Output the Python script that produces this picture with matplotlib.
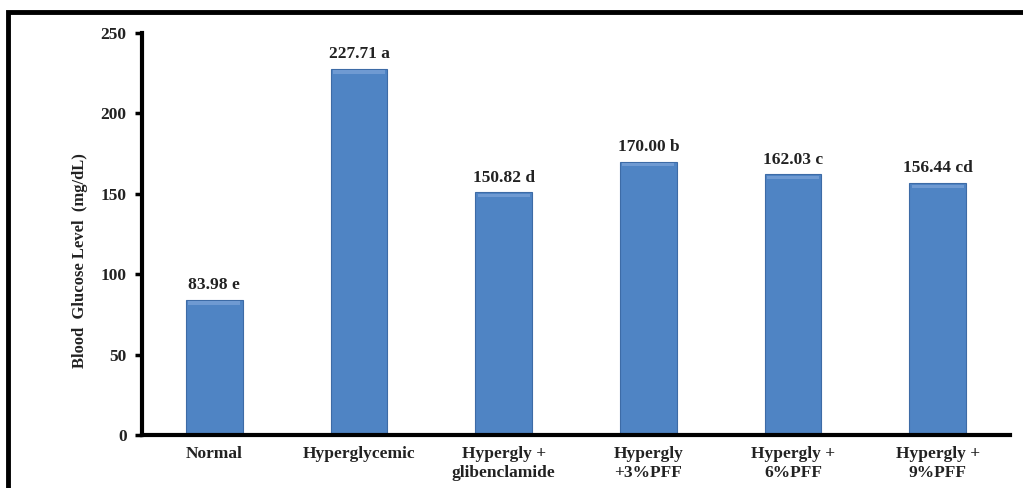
import matplotlib.pyplot as plt
from matplotlib.patches import Rectangle

# groups and mean blood glucose (mg/dL)
groups = ["Normal", "Hyperglycemic", "Hypergly +\nglibenclamide",
          "Hypergly\n+3%PFF", "Hypergly +\n6%PFF", "Hypergly +\n9%PFF"]
glucose = [83.98, 227.71, 150.82, 170.00, 162.03, 156.44]
letters = ["e", "a", "d", "b", "c", "cd"]

plt.rcParams['font.family'] = ['Liberation Serif', 'DejaVu Serif']
plt.rcParams['font.weight'] = 'bold'

fig = plt.figure(figsize=(10.23, 4.88), dpi=100)
ax = fig.add_axes([0.1388, 0.1086, 0.8485, 0.8238])

x = range(len(groups))
bars = ax.bar(x, glucose, width=0.39, color="#4F84C4", edgecolor="#3D6BA6", linewidth=0.8)

# light bevel strip along the top of each bar
for b in bars:
    bx, bw, bh = b.get_x(), b.get_width(), b.get_height()
    ax.bar(bx + bw / 2, 2.2, width=bw * 0.92, bottom=bh - 3.0,
           color="#6F9AD2", linewidth=0, zorder=3)

for b, v, l in zip(bars, glucose, letters):
    ax.annotate(f"{v:.2f} {l}", (b.get_x() + b.get_width() / 2, v),
                xytext=(0, 5), textcoords="offset points",
                ha="center", va="bottom", fontsize=12.5, fontweight="bold",
                color="#222222")

ax.set_xlim(-0.5, len(groups) - 0.5)
ax.set_ylim(0, 250)
ax.set_yticks(range(0, 251, 50))
ax.set_xticks(list(x))
ax.set_xticklabels(groups, fontsize=12.5, fontweight="bold", linespacing=1.25,
                   color="#222222")
ax.tick_params(axis="x", length=0, pad=8)
ax.tick_params(axis="y", length=5, width=2.5, labelsize=12.5, pad=6,
               labelcolor="#222222")
ax.spines["top"].set_visible(False)
ax.spines["right"].set_visible(False)
ax.spines["left"].set_linewidth(3)
ax.spines["bottom"].set_linewidth(3)
ax.set_ylabel("Blood  Glucose Level  (mg/dL)", fontsize=12, fontweight="bold",
              color="#222222")
ax.yaxis.set_label_coords(-0.062, 0.435)

# black frame around the chart area (cut off on right and bottom)
fig.patches.append(Rectangle((8 / 1023, -0.1), 1.2, 0.1 + 1 - 12 / 488,
                             transform=fig.transFigure, fill=False,
                             edgecolor="black", linewidth=3.5))

fig.savefig("out.png", dpi=100)
